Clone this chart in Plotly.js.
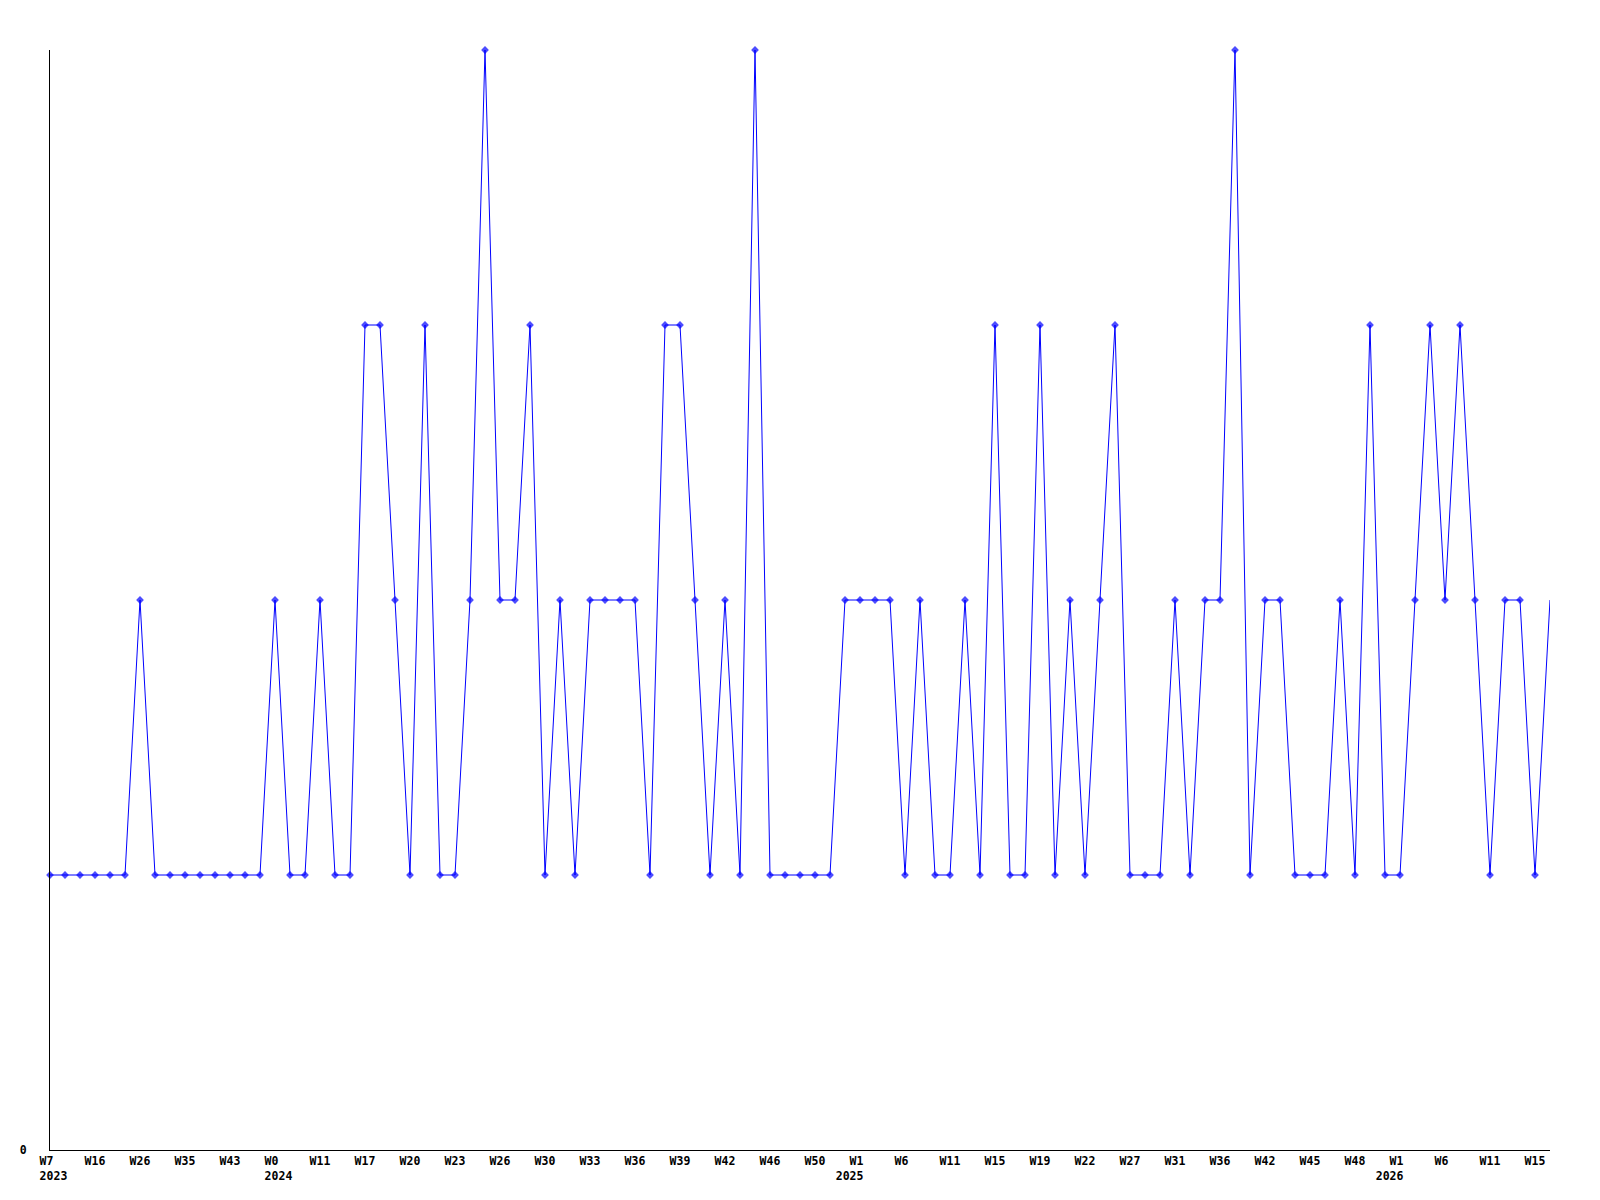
<!DOCTYPE html>
<html>
<head>
<meta charset="utf-8">
<script src="https://cdn.plot.ly/plotly-3.0.1.min.js"></script>
<style>html,body{margin:0;padding:0;background:#fff;}#chart{width:1600px;height:1200px;}</style>
</head>
<body>
<div id="chart"></div>
<script>
// Values per data point (equally spaced categories)
var values = [
  1,1,1,1,1,1,2,1,1,1,
  1,1,1,1,1,2,1,1,2,1,
  1,3,3,2,1,3,1,1,2,4,
  2,2,3,1,2,1,2,2,2,2,
  1,3,3,2,1,2,1,4,1,1,
  1,1,1,2,2,2,2,1,2,1,
  1,2,1,3,1,1,3,1,2,1,
  2,3,1,1,1,2,1,2,2,4,
  1,2,2,1,1,1,2,1,3,1,
  1,2,3,2,3,2,1,2,2,1,
  2
];
// Week labels shown on every third point
var weekLabels = ["W7","W16","W26","W35","W43","W0","W11","W17","W20","W23","W26","W30",
  "W33","W36","W39","W42","W46","W50","W1","W6","W11","W15","W19","W22",
  "W27","W31","W36","W42","W45","W48","W1","W6","W11","W15"];
// Year labels under some week labels (label index -> year)
var yearIndex = [0, 5, 18, 30];
var yearText = ["2023", "2024", "2025", "2026"];
// year line starts this many characters left of the week text
var yearIndent = [0, 0, -2, -2];
var labelStep = 3;

var NB = "\u00A0";
var CW = 0.602 * 11.5;      // char width of the monospace tick font (px)
var START = -10.4;          // label text starts this many px from its point
var PX_PER_PT = 15;         // 1500px plot width / 100 intervals

function rep(n){var s="";for(var k=0;k<n;k++)s+=NB;return s;}

var xs = values.map(function(v,i){return i;});
var tickvals = [], ticktext = [];
weekLabels.forEach(function(w, j){
  var lines = [{t: w, off: 0}];
  var yi = yearIndex.indexOf(j);
  if (yi >= 0) lines.push({t: yearText[yi], off: yearIndent[yi]});
  var m = Math.min.apply(null, lines.map(function(l){return l.off;}));
  var L = Math.max.apply(null, lines.map(function(l){return l.off - m + l.t.length;}));
  var txt = lines.map(function(l){
    var lead = l.off - m;
    return rep(lead) + l.t + rep(L - lead - l.t.length);
  }).join("<br>");
  var centerPx = START + (m + L/2) * CW;
  tickvals.push(j*labelStep + centerPx / PX_PER_PT);
  ticktext.push(txt);
});

var sizes = values.map(function(v,i){return i === values.length-1 ? 0 : 6;});

var fnt = {family: 'DejaVu Sans Mono', size: 11.5, color: '#000000', weight: 'bold'};

var trace = {
  x: xs, y: values, type: 'scatter', mode: 'lines+markers',
  line: {color: '#0000ff', width: 1},
  marker: {color: '#0000ff', symbol: 'diamond', size: sizes, line: {width: 0}},
  cliponaxis: false, hoverinfo: 'none'
};

var layout = {
  width: 1600, height: 1200,
  margin: {l: 50, r: 50, t: 50, b: 50, pad: 0},
  paper_bgcolor: '#ffffff', plot_bgcolor: '#ffffff',
  showlegend: false,
  font: {family: 'DejaVu Sans Mono', size: 11.5, color: '#000000'},
  xaxis: {
    range: [0, values.length-1], showgrid: false, zeroline: false,
    showline: true, linecolor: '#000000', linewidth: 1,
    ticks: '', tickmode: 'array', tickvals: tickvals, ticktext: ticktext,
    tickangle: 0, ticklabelstandoff: 0,
    tickfont: fnt
  },
  yaxis: {
    range: [0, 4], showgrid: false, zeroline: false,
    showline: true, linecolor: '#000000', linewidth: 1,
    ticks: '', tickmode: 'array', tickvals: [0], ticktext: ['0'],
    ticklabelstandoff: 20,
    tickfont: fnt
  }
};
Plotly.newPlot('chart', [trace], layout, {staticPlot: true, displayModeBar: false});
</script>
</body>
</html>
